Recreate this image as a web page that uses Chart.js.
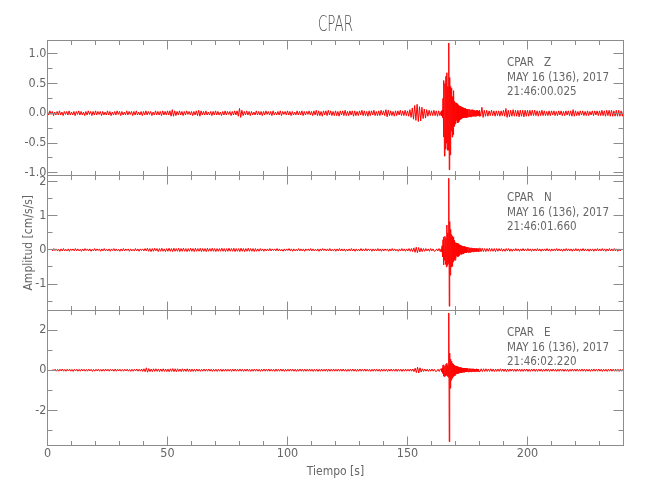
<!DOCTYPE html>
<html>
<head>
<meta charset="utf-8">
<script src="https://cdn.jsdelivr.net/npm/chart.js@4.4.1/dist/chart.umd.min.js"></script>
<style>
html,body{margin:0;padding:0;background:#ffffff;}
#wrap{width:650px;height:500px;position:relative;}
</style>
</head>
<body>
<div id="wrap"><canvas id="c" width="650" height="500"></canvas></div>
<script>
// ---------- text ----------
const station = "CPAR";
const components = ["Z", "N", "E"];
const dateLabel = "MAY 16 (136), 2017";
const startLabels = ["21:46:00.025", "21:46:01.660", "21:46:02.220"];
const xTitle = "Tiempo [s]";
const yTitle = "Amplitud [cm/s/s]";

// ---------- time axis ----------
const sampleStep = 0.5;               // s between coarse samples
const traceStart = [0, 1.64, 2.2];     // first sample time of Z, N, E (s)
const eventStart = 164;                // fine readings cover the main arrival
const fineStep = 0.2;                  // s between fine samples
const xRange = [0, 240];
const xTickStep = 50;

// ---------- amplitude ranges / tick steps ----------
const yRangeZ = [-1.04, 1.23];
const yRangeN = [-1.77, 2.19];
const yRangeE = [-3.76, 2.99];
const yStepZ = 0.5, yStepN = 1, yStepE = 2;

// ---------- coarse traces (cm/s/s), alternating high/low read every 0.5 s ----------
const ampZ = [
0.03,-0.03,0.04,-0.02,0.03,-0.04,0.02,-0.03,0.03,-0.03,0.04,-0.03,0.02,-0.04,0.03,-0.02,0.03,-0.03,0.04,-0.03,
0.02,-0.03,0.03,-0.04,0.03,-0.02,0.04,-0.03,0.03,-0.03,0.02,-0.04,0.03,-0.03,0.04,-0.02,0.03,-0.04,0.03,-0.03,
0.04,-0.03,0.03,-0.02,0.03,-0.04,0.03,-0.03,0.02,-0.03,0.04,-0.03,0.03,-0.04,0.02,-0.03,0.03,-0.03,0.04,-0.02,
0.03,-0.04,0.03,-0.03,0.02,-0.03,0.04,-0.03,0.03,-0.02,0.03,-0.04,0.03,-0.03,0.04,-0.03,0.02,-0.03,0.03,-0.04,
0.03,-0.03,0.04,-0.03,0.03,-0.02,0.03,-0.04,0.02,-0.03,0.04,-0.03,0.03,-0.03,0.03,-0.04,0.04,-0.03,0.03,-0.03,
0.04,-0.03,0.04,-0.05,0.06,-0.05,0.04,-0.04,0.03,-0.03,0.04,-0.03,0.03,-0.04,0.03,-0.03,0.04,-0.02,0.03,-0.03,
0.03,-0.04,0.03,-0.03,0.04,-0.04,0.05,-0.05,0.04,-0.03,0.03,-0.03,0.04,-0.03,0.02,-0.03,0.03,-0.04,0.03,-0.03,
0.04,-0.03,0.03,-0.03,0.02,-0.04,0.03,-0.03,0.04,-0.03,0.03,-0.02,0.03,-0.04,0.03,-0.03,0.04,-0.03,0.04,-0.05,
0.08,-0.07,0.05,-0.04,0.03,-0.03,0.04,-0.03,0.03,-0.04,0.03,-0.03,0.02,-0.03,0.04,-0.03,0.03,-0.03,0.03,-0.04,
0.03,-0.03,0.04,-0.02,0.03,-0.03,0.03,-0.04,0.04,-0.03,0.02,-0.03,0.03,-0.03,0.04,-0.04,0.03,-0.02,0.03,-0.03,
0.04,-0.03,0.03,-0.04,0.03,-0.03,0.02,-0.03,0.04,-0.03,0.03,-0.03,0.04,-0.04,0.03,-0.03,0.03,-0.02,0.04,-0.03,
0.03,-0.04,0.04,-0.03,0.05,-0.04,0.04,-0.04,0.03,-0.05,0.04,-0.03,0.04,-0.04,0.05,-0.03,0.04,-0.04,0.03,-0.04,
0.04,-0.04,0.03,-0.05,0.04,-0.03,0.04,-0.04,0.05,-0.04,0.03,-0.04,0.04,-0.03,0.04,-0.05,0.04,-0.04,0.03,-0.04,
0.04,-0.03,0.05,-0.04,0.04,-0.04,0.03,-0.05,0.04,-0.04,0.04,-0.03,0.05,-0.04,0.03,-0.04,0.04,-0.04,0.05,-0.03,
0.04,-0.04,0.06,-0.06,0.05,-0.04,0.04,-0.04,0.03,-0.05,0.04,-0.04,0.04,-0.03,0.05,-0.04,0.04,-0.04,0.05,-0.04,
0.04,-0.05,0.06,-0.07,0.09,-0.1,0.13,-0.12,0.15,-0.14,0.11,-0.13,0.1,-0.09,0.07,-0.08,0.06,-0.05,0.05,-0.04,
0.04,-0.04,0.05,-0.04,0.04,-0.05,0.04,-0.04,0.05,-0.1,0.62,-0.75,0.68,-0.62,1.18,-0.95,0.5,-0.45,0.38,-0.32,
0.25,-0.22,0.2,-0.18,0.16,-0.15,0.14,-0.12,0.12,-0.1,0.09,-0.08,0.07,-0.07,0.06,-0.05,0.06,-0.05,0.05,-0.05,
0.05,-0.05,0.1,-0.07,0.05,-0.05,0.05,-0.05,0.04,-0.04,0.05,-0.04,0.04,-0.05,0.04,-0.04,0.04,-0.05,0.04,-0.04,
0.05,-0.05,0.08,-0.07,0.05,-0.06,0.05,-0.05,0.06,-0.05,0.05,-0.05,0.05,-0.06,0.05,-0.05,0.05,-0.06,0.05,-0.05,
0.05,-0.05,0.05,-0.04,0.05,-0.04,0.05,-0.04,0.04,-0.05,0.04,-0.04,0.05,-0.04,0.04,-0.04,0.03,-0.04,0.04,-0.04,
0.04,-0.03,0.04,-0.04,0.03,-0.04,0.04,-0.03,0.04,-0.04,0.03,-0.04,0.04,-0.03,0.04,-0.04,0.04,-0.05,0.06,-0.05,
0.04,-0.04,0.03,-0.04,0.04,-0.03,0.04,-0.04,0.03,-0.04,0.04,-0.04,0.03,-0.03,0.04,-0.04,0.04,-0.03,0.04,-0.04,
0.04,-0.04,0.05,-0.04,0.04,-0.05,0.05,-0.04,0.05,-0.05,0.05,-0.05,0.04,-0.05,0.05,-0.05,0.05,-0.05,0.04,-0.05,
0.04
];
const ampN = [
0.03,-0.03,0.04,-0.02,0.03,-0.03,0.02,-0.04,0.03,-0.03,0.04,-0.03,0.02,-0.03,0.03,-0.04,0.03,-0.02,0.03,-0.03,
0.04,-0.03,0.03,-0.03,0.02,-0.04,0.03,-0.03,0.04,-0.02,0.03,-0.03,0.03,-0.04,0.02,-0.03,0.04,-0.03,0.03,-0.02,
0.03,-0.04,0.03,-0.03,0.04,-0.03,0.02,-0.03,0.03,-0.04,0.03,-0.02,0.04,-0.03,0.03,-0.03,0.02,-0.04,0.03,-0.03,
0.04,-0.03,0.03,-0.02,0.03,-0.04,0.03,-0.03,0.02,-0.03,0.04,-0.03,0.03,-0.04,0.03,-0.02,0.03,-0.03,0.04,-0.03,
0.05,-0.04,0.04,-0.05,0.04,-0.04,0.05,-0.03,0.04,-0.05,0.04,-0.04,0.05,-0.04,0.03,-0.05,0.04,-0.04,0.05,-0.04,
0.04,-0.05,0.05,-0.04,0.04,-0.04,0.05,-0.05,0.04,-0.04,0.05,-0.04,0.04,-0.05,0.04,-0.04,0.05,-0.04,0.04,-0.05,
0.05,-0.04,0.04,-0.04,0.05,-0.05,0.04,-0.04,0.04,-0.05,0.05,-0.04,0.04,-0.04,0.05,-0.04,0.04,-0.05,0.04,-0.04,
0.04,-0.04,0.05,-0.04,0.04,-0.05,0.04,-0.04,0.05,-0.04,0.04,-0.04,0.05,-0.05,0.04,-0.04,0.04,-0.05,0.05,-0.04,
0.04,-0.05,0.04,-0.04,0.05,-0.04,0.04,-0.04,0.04,-0.05,0.04,-0.04,0.03,-0.04,0.04,-0.03,0.03,-0.04,0.03,-0.03,
0.03,-0.03,0.04,-0.03,0.03,-0.02,0.03,-0.03,0.04,-0.03,0.03,-0.03,0.02,-0.04,0.03,-0.03,0.03,-0.02,0.04,-0.03,
0.03,-0.04,0.03,-0.03,0.02,-0.03,0.04,-0.03,0.03,-0.03,0.03,-0.04,0.03,-0.02,0.03,-0.03,0.04,-0.03,0.03,-0.03,
0.02,-0.03,0.03,-0.04,0.03,-0.03,0.04,-0.02,0.03,-0.03,0.03,-0.03,0.04,-0.03,0.02,-0.03,0.03,-0.04,0.03,-0.03,
0.04,-0.03,0.03,-0.03,0.03,-0.04,0.02,-0.03,0.03,-0.03,0.04,-0.03,0.03,-0.04,0.03,-0.03,0.02,-0.03,0.04,-0.03,
0.03,-0.03,0.04,-0.03,0.03,-0.02,0.03,-0.04,0.03,-0.03,0.03,-0.03,0.04,-0.03,0.03,-0.04,0.03,-0.03,0.03,-0.02,
0.03,-0.04,0.03,-0.03,0.04,-0.03,0.03,-0.03,0.02,-0.04,0.03,-0.03,0.04,-0.03,0.03,-0.04,0.03,-0.03,0.04,-0.04,
0.04,-0.05,0.06,-0.07,0.08,-0.08,0.07,-0.06,0.05,-0.05,0.04,-0.04,0.04,-0.03,0.03,-0.04,0.04,-0.03,0.03,-0.04,
-0.03,0.03,-0.03,0.04,-0.05,0.1,-0.3,0.4,-0.44,0.73,-0.5,2.1,-1.65,0.83,-0.74,0.5,-0.45,0.38,-0.32,0.28,
-0.25,0.22,-0.2,0.18,-0.17,0.15,-0.14,0.13,-0.12,0.11,-0.1,0.09,-0.09,0.08,-0.07,0.07,-0.06,0.06,-0.05,0.05,
-0.05,0.04,-0.05,0.04,-0.04,0.05,-0.04,0.04,-0.04,0.04,-0.05,0.04,-0.04,0.04,-0.03,0.04,-0.04,0.03,-0.04,0.04,
-0.03,0.04,-0.04,0.03,-0.04,0.03,-0.03,0.04,-0.03,0.03,-0.04,0.03,-0.03,0.04,-0.03,0.03,-0.03,0.04,-0.03,0.03,
-0.04,0.03,-0.03,0.03,-0.03,0.04,-0.03,0.03,-0.04,0.03,-0.03,0.03,-0.03,0.04,-0.03,0.03,-0.04,0.03,-0.03,0.03,
-0.03,0.04,-0.03,0.03,-0.03,0.03,-0.04,0.03,-0.03,0.04,-0.03,0.03,-0.03,0.03,-0.04,0.03,-0.03,0.04,-0.03,0.03,
-0.04,0.03,-0.03,0.04,-0.03,0.03,-0.03,0.03,-0.04,0.03,-0.03,0.03,-0.04,0.03,-0.03,0.04,-0.03,0.03,-0.03,0.04,
-0.03,0.03,-0.04,0.03,-0.03,0.04,-0.03,0.03,-0.03,0.04,-0.03,0.03,-0.04,0.03,-0.03,0.03
];
const ampE = [
0.05,-0.04,0.05,-0.05,0.04,-0.05,0.05,-0.04,0.06,-0.05,0.04,-0.05,0.05,-0.04,0.05,-0.05,0.04,-0.06,0.05,-0.04,
0.05,-0.05,0.04,-0.05,0.06,-0.04,0.05,-0.05,0.04,-0.05,0.05,-0.04,0.05,-0.06,0.04,-0.05,0.05,-0.04,0.05,-0.05,
0.04,-0.05,0.05,-0.05,0.06,-0.04,0.05,-0.05,0.05,-0.04,0.04,-0.05,0.06,-0.05,0.05,-0.04,0.05,-0.05,0.04,-0.05,
0.05,-0.04,0.05,-0.05,0.04,-0.06,0.05,-0.05,0.05,-0.04,0.06,-0.05,0.05,-0.05,0.06,-0.06,0.07,-0.08,0.12,-0.1,
0.08,-0.07,0.06,-0.07,0.07,-0.06,0.07,-0.06,0.06,-0.07,0.06,-0.06,0.07,-0.06,0.06,-0.07,0.06,-0.08,0.07,-0.06,
0.08,-0.07,0.07,-0.08,0.07,-0.06,0.06,-0.07,0.07,-0.06,0.06,-0.06,0.07,-0.06,0.06,-0.07,0.06,-0.06,0.05,-0.06,
0.06,-0.05,0.05,-0.06,0.05,-0.05,0.06,-0.05,0.05,-0.05,0.06,-0.05,0.05,-0.06,0.05,-0.05,0.05,-0.06,0.05,-0.05,
0.05,-0.06,0.05,-0.05,0.06,-0.05,0.05,-0.05,0.05,-0.06,0.05,-0.05,0.06,-0.05,0.05,-0.05,0.06,-0.05,0.05,-0.06,
0.05,-0.05,0.06,-0.05,0.05,-0.06,0.05,-0.05,0.06,-0.05,0.05,-0.05,0.05,-0.06,0.05,-0.05,0.06,-0.05,0.05,-0.05,
0.06,-0.05,0.05,-0.05,0.05,-0.06,0.06,-0.05,0.05,-0.05,0.06,-0.05,0.05,-0.06,0.05,-0.05,0.05,-0.05,0.06,-0.05,
0.05,-0.05,0.05,-0.06,0.05,-0.05,0.06,-0.05,0.05,-0.06,0.05,-0.05,0.05,-0.05,0.06,-0.05,0.05,-0.06,0.05,-0.05,
0.05,-0.06,0.05,-0.05,0.06,-0.05,0.05,-0.05,0.06,-0.06,0.05,-0.05,0.05,-0.05,0.06,-0.05,0.05,-0.05,0.06,-0.05,
0.05,-0.05,0.06,-0.05,0.05,-0.06,0.05,-0.05,0.05,-0.05,0.06,-0.05,0.05,-0.06,0.05,-0.05,0.06,-0.05,0.05,-0.05,
0.06,-0.05,0.05,-0.05,0.05,-0.06,0.05,-0.05,0.06,-0.05,0.05,-0.05,0.05,-0.06,0.06,-0.05,0.05,-0.05,0.05,-0.06,
0.05,-0.05,0.06,-0.05,0.05,-0.05,0.06,-0.06,0.05,-0.05,0.05,-0.06,0.05,-0.05,0.06,-0.05,0.05,-0.05,0.06,-0.05,
0.06,-0.07,0.1,-0.12,0.15,-0.14,0.12,-0.09,0.07,-0.06,0.06,-0.05,0.05,-0.06,0.05,-0.05,0.06,-0.05,0.05,-0.06,
-0.05,0.05,-0.06,0.06,-0.08,0.12,-0.25,0.3,-0.32,2.86,-3.57,0.85,-0.9,0.55,-0.5,0.4,-0.35,0.3,-0.25,0.22,
-0.2,0.18,-0.17,0.15,-0.14,0.13,-0.12,0.12,-0.11,0.1,-0.1,0.09,-0.09,0.08,-0.08,0.08,-0.07,0.07,-0.07,0.07,
-0.06,0.07,-0.06,0.06,-0.06,0.07,-0.06,0.06,-0.07,0.06,-0.06,0.06,-0.06,0.07,-0.06,0.06,-0.06,0.06,-0.07,0.06,
-0.06,0.06,-0.05,0.06,-0.06,0.05,-0.06,0.06,-0.05,0.06,-0.06,0.05,-0.06,0.06,-0.05,0.06,-0.06,0.05,-0.06,0.06,
-0.05,0.06,-0.06,0.05,-0.06,0.05,-0.05,0.06,-0.06,0.05,-0.05,0.06,-0.05,0.05,-0.06,0.05,-0.05,0.06,-0.05,0.05,
-0.06,0.05,-0.05,0.06,-0.05,0.05,-0.06,0.05,-0.05,0.05,-0.06,0.05,-0.05,0.06,-0.05,0.05,-0.05,0.06,-0.05,0.05,
-0.05,0.06,-0.05,0.05,-0.06,0.05,-0.05,0.05,-0.06,0.05,-0.05,0.06,-0.05,0.05,-0.05,0.06,-0.05,0.05,-0.06,0.05,
-0.05,0.05,-0.06,0.05,-0.05,0.06,-0.05,0.05,-0.05,0.06,-0.05,0.05,-0.06,0.05,-0.05,0.05
];

// ---------- fine readings of the main arrival, every 0.2 s from 164.0 s ----------
const eventZ = [
0.03,-0.04,0.05,-0.07,0.25,-0.4,0.55,-0.72,0.5,-0.6,
0.62,-0.5,0.68,-0.62,0.45,-0.62,1.18,-0.95,0.6,-0.7,
0.45,-0.3,0.42,-0.4,0.28,-0.36,0.38,-0.22,0.2,-0.18,
0.18,-0.16,0.17,-0.12,0.15,-0.16,0.13,-0.14,0.12,-0.11,
0.12,-0.1,0.1,-0.09,0.1,-0.08,0.09,-0.08,0.08,-0.07,
0.08,-0.07,0.07,-0.08,0.06,-0.07,0.07,-0.06,0.07,-0.06,
0.06,-0.06,0.05,-0.06,0.06,-0.05,0.06,-0.05,0.05,-0.05,
0.05,-0.05,0.04,-0.05,0.05,-0.04,0.05,-0.04,0.04,-0.05
];
const eventN = [
0.03,-0.05,0.12,-0.2,0.3,-0.44,0.38,-0.3,0.4,-0.42,
0.35,-0.5,0.73,-0.45,0.5,-0.4,2.1,-1.65,0.83,-0.74,
0.6,-0.5,0.45,-0.48,0.4,-0.35,0.38,-0.3,0.28,-0.3,
0.22,-0.24,0.2,-0.18,0.2,-0.2,0.16,-0.18,0.15,-0.14,
0.14,-0.12,0.12,-0.13,0.11,-0.1,0.1,-0.11,0.1,-0.09,
0.09,-0.08,0.08,-0.09,0.08,-0.07,0.07,-0.08,0.07,-0.07,
0.06,-0.07,0.06,-0.06,0.06,-0.05,0.05,-0.06,0.05,-0.05,
0.05,-0.05,0.04,-0.05,0.05,-0.04,0.04,-0.05,0.04,-0.04
];
const eventE = [
0.05,-0.06,0.1,-0.15,0.25,-0.3,0.27,-0.32,0.2,-0.28,
0.3,-0.25,0.35,-0.3,0.25,-0.35,2.86,-3.57,0.85,-0.9,
0.55,-0.5,0.45,-0.4,0.35,-0.32,0.3,-0.28,0.25,-0.25,
0.22,-0.2,0.2,-0.18,0.18,-0.17,0.16,-0.15,0.15,-0.14,
0.13,-0.12,0.12,-0.12,0.11,-0.1,0.11,-0.1,0.1,-0.1,
0.1,-0.09,0.09,-0.09,0.09,-0.08,0.08,-0.09,0.08,-0.08,
0.08,-0.07,0.07,-0.08,0.07,-0.07,0.07,-0.06,0.07,-0.07,
0.06,-0.07,0.06,-0.06,0.07,-0.06,0.06,-0.06,0.06,-0.06
];

// ---------- styles ----------
const TRACE_COLOR = '#ff0000';
const TEXT_COLOR = '#666666';
const AXIS_COLOR = '#8c8c8c';
const FONT_STACK = "'Liberation Sans Narrow','DejaVu Sans Condensed','Liberation Sans',Arial,sans-serif";

// coarse samples outside the event window, fine samples inside it
function buildTrace(coarse, t0, fine) {
  const eventEnd = eventStart + (fine.length - 1) * fineStep;
  const pts = [];
  coarse.forEach((v, i) => { const t = t0 + i * sampleStep; if (t < eventStart - 1e-9) pts.push({ x: t, y: v }); });
  fine.forEach((v, i) => pts.push({ x: eventStart + i * fineStep, y: v }));
  coarse.forEach((v, i) => { const t = t0 + i * sampleStep; if (t > eventEnd + 1e-9) pts.push({ x: t, y: v }); });
  return pts;
}

function signed(decimals) {
  return v => (decimals ? Number(v).toFixed(decimals) : String(Math.round(v)));
}

function yScale(range, step, weight, fmt, withTitle) {
  return {
    type: 'linear', position: 'left', stack: 'comp', stackWeight: 1, weight: weight,
    min: range[0], max: range[1], offset: false,
    grid: { display: false, drawTicks: false },
    border: { display: false },
    ticks: { stepSize: step, includeBounds: false, padding: 1, color: TEXT_COLOR,
             font: { family: FONT_STACK, size: 12.5 }, callback: fmt },
    title: withTitle ? { display: true, text: yTitle, color: TEXT_COLOR,
             font: { family: FONT_STACK, size: 12 }, padding: { top: 21.8, bottom: 0 } }
           : { display: false },
    afterFit: s => { s.width = 47.5; }
  };
}

function scaledText(ctx, text, x, y, sx) {
  ctx.save();
  ctx.translate(x, y);
  ctx.scale(sx, 1);
  ctx.fillText(text, 0, 0);
  ctx.restore();
}

const decorPlugin = {
  id: 'decor',
  afterDraw(chart) {
    const ctx = chart.ctx;
    const ca = chart.chartArea;
    const xs = chart.scales.x;
    const L = Math.floor(ca.left) + 0.5, R = Math.floor(ca.right) + 0.5;
    const crisp = v => Math.floor(v) + 0.5;
    ctx.save();
    ctx.strokeStyle = AXIS_COLOR;
    ctx.lineWidth = 1;
    const seg = (x1, y1, x2, y2) => { ctx.beginPath(); ctx.moveTo(x1, y1); ctx.lineTo(x2, y2); ctx.stroke(); };
    const xMajor = xs.ticks.map(t => t.value);
    ['yZ', 'yN', 'yE'].forEach((id, p) => {
      const ys = chart.scales[id];
      const T = crisp(ys.top), B = crisp(ys.bottom);
      ctx.strokeRect(L, T, R - L, B - T);
      for (let k = 0; k * 10 <= xs.max + 1e-9; k++) {
        const v = xs.min + k * 10;
        const px = crisp(xs.getPixelForValue(v));
        const major = xMajor.some(m => Math.abs(m - v) < 1e-6);
        const len = major ? 9 : 4.5;
        seg(px, T, px, T + len);
        seg(px, B, px, B - len);
      }
      const yMajor = ys.ticks.map(t => t.value);
      const step = yMajor[1] - yMajor[0];
      for (let k = -2; ; k++) {
        const v = yMajor[0] + k * step / 2;
        if (v > ys.max + 1e-9) break;
        if (v < ys.min - 1e-9) continue;
        const py = crisp(ys.getPixelForValue(v));
        const len = (k % 2 === 0) ? 10 : 5;
        seg(L, py, L + len, py);
        seg(R, py, R - len, py);
      }
      ctx.fillStyle = TEXT_COLOR;
      ctx.textAlign = 'left';
      ctx.textBaseline = 'alphabetic';
      ctx.font = `13px ${FONT_STACK}`;
      const sx = 102 / ctx.measureText(dateLabel).width;
      const tx = ca.right - 116.5;
      scaledText(ctx, station, tx, ys.top + 25.7, sx);
      scaledText(ctx, components[p], tx + 37, ys.top + 25.7, sx);
      scaledText(ctx, dateLabel, tx, ys.top + 40.5, sx);
      scaledText(ctx, startLabels[p], tx, ys.top + 55, sx);
    });
    ctx.fillStyle = '#505050';
    ctx.textAlign = 'center';
    ctx.font = `200 22px 'DejaVu Sans', ${FONT_STACK}`;
    const tsx = 35 / ctx.measureText(station).width;
    scaledText(ctx, station, (ca.left + ca.right) / 2, 31, tsx);
    ctx.restore();
  }
};

new Chart(document.getElementById('c'), {
  type: 'line',
  data: {
    datasets: [
      { label: station + ' ' + components[0], data: buildTrace(ampZ, traceStart[0], eventZ), yAxisID: 'yZ' },
      { label: station + ' ' + components[1], data: buildTrace(ampN, traceStart[1], eventN), yAxisID: 'yN' },
      { label: station + ' ' + components[2], data: buildTrace(ampE, traceStart[2], eventE), yAxisID: 'yE' }
    ].map(d => Object.assign(d, { borderColor: TRACE_COLOR, borderWidth: 1, pointRadius: 0, tension: 0, fill: false }))
  },
  options: {
    responsive: false,
    animation: false,
    devicePixelRatio: 1,
    parsing: false,
    layout: { padding: { left: 0, right: 26.5, top: 40, bottom: 0 } },
    plugins: { legend: { display: false }, tooltip: { enabled: false }, title: { display: false } },
    scales: {
      x: {
        type: 'linear', position: 'bottom', min: xRange[0], max: xRange[1],
        grid: { display: false, drawTicks: false }, border: { display: false },
        ticks: { stepSize: xTickStep, includeBounds: false, padding: 1, color: TEXT_COLOR,
                 maxRotation: 0, font: { family: FONT_STACK, size: 12.5 } },
        title: { display: true, text: xTitle, color: TEXT_COLOR,
                 font: { family: FONT_STACK, size: 12 }, padding: { top: 0, bottom: 20.8 } },
        afterFit: s => { s.height = 54.5; }
      },
      yZ: yScale(yRangeZ, yStepZ, 3, signed(1), false),
      yN: yScale(yRangeN, yStepN, 2, signed(0), true),
      yE: yScale(yRangeE, yStepE, 1, signed(0), false)
    }
  },
  plugins: [decorPlugin]
});
</script>
</body>
</html>
